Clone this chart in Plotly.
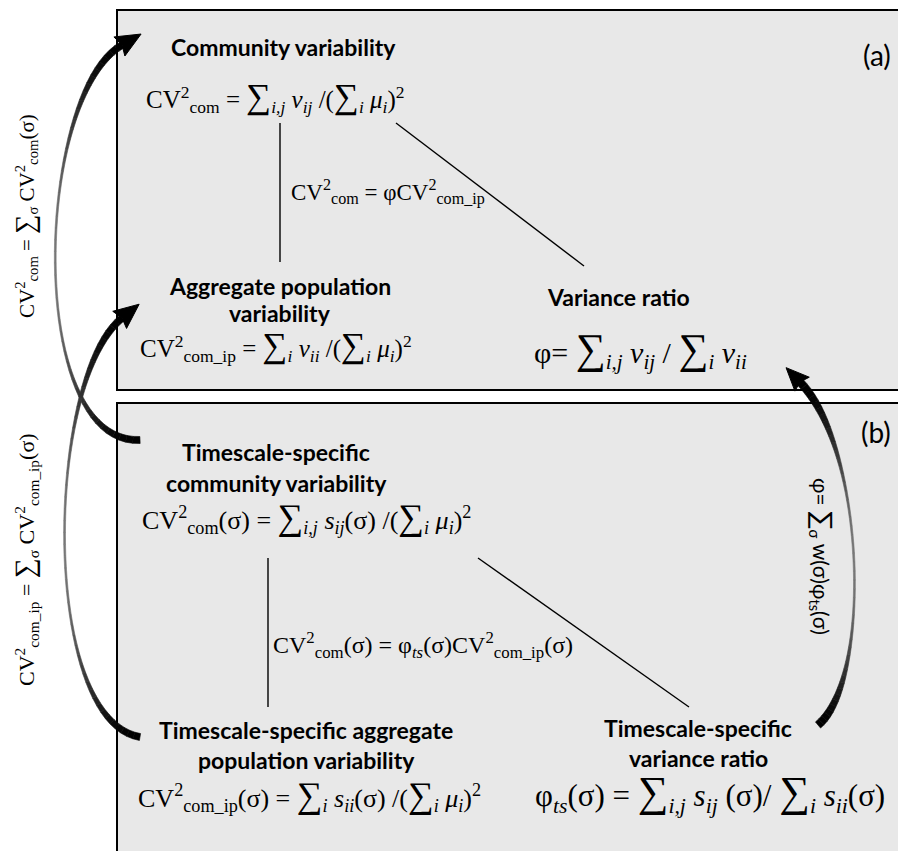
import numpy as np
import plotly.graph_objects as go

W, H = 906, 851
OFF = 8  # default page margin of the HTML body

# ---------------- text content ----------------
panel_tags = ["(a)", "(b)"]

title_lines = [
    "Community variability",
    "Aggregate population",
    "variability",
    "Variance ratio",
    "Timescale-specific",
    "community variability",
    "Timescale-specific aggregate",
    "population variability",
    "Timescale-specific",
    "variance ratio",
]

formula_texts = [
    "CV<sup>2</sup><sub>com</sub> = {S}<sub><i>i,j</i></sub> <i>v</i><sub><i>ij</i></sub> /({S}<sub><i>i</i></sub> <i>μ</i><sub><i>i</i></sub>)<sup>2</sup>",
    "CV<sup>2</sup><sub>com</sub> = φCV<sup>2</sup><sub>com_ip</sub>",
    "CV<sup>2</sup><sub>com_ip</sub> = {S}<sub><i>i</i></sub> <i>v</i><sub><i>ii</i></sub> /({S}<sub><i>i</i></sub> <i>μ</i><sub><i>i</i></sub>)<sup>2</sup>",
    "φ= {S}<sub><i>i,j</i></sub> <i>v</i><sub><i>ij</i></sub> / {S}<sub><i>i</i></sub> <i>v</i><sub><i>ii</i></sub>",
    "CV<sup>2</sup><sub>com</sub>(σ) = {S}<sub><i>i,j</i></sub> <i>s</i><sub><i>ij</i></sub>(σ) /({S}<sub><i>i</i></sub> <i>μ</i><sub><i>i</i></sub>)<sup>2</sup>",
    "CV<sup>2</sup><sub>com</sub>(σ) = φ<sub><i>ts</i></sub>(σ)CV<sup>2</sup><sub>com_ip</sub>(σ)",
    "CV<sup>2</sup><sub>com_ip</sub>(σ) = {S}<sub><i>i</i></sub> <i>s</i><sub><i>ii</i></sub>(σ) /({S}<sub><i>i</i></sub> <i>μ</i><sub><i>i</i></sub>)<sup>2</sup>",
    "φ<sub><i>ts</i></sub>(σ) = {S}<sub><i>i,j</i></sub> <i>s</i><sub><i>ij</i></sub> (σ)/ {S}<sub><i>i</i></sub> <i>s</i><sub><i>ii</i></sub>(σ)",
]

side_texts = [
    "CV<sup>2</sup><sub>com</sub> = {S}<sub>σ</sub> CV<sup>2</sup><sub>com</sub>(σ)",
    "CV<sup>2</sup><sub>com_ip</sub> = {S}<sub>σ</sub> CV<sup>2</sup><sub>com_ip</sub>(σ)",
    "φ= {S}<sub>σ</sub> w(σ)φ<sub>ts</sub>(σ)",
]

# ---------------- layout (positions / styles) ----------------
SERIF = "Liberation Serif"
SANS = "Lato"

boxes = [(117, 10, 910, 390), (117, 403, 910, 870)]
tag_pos = [(877, 55), (876, 432)]
title_pos = [(283, 47), (280, 286), (280, 313), (618, 297),
             (276, 452), (276, 483), (306, 730), (306, 760),
             (698, 728), (698, 758)]
formula_pos = [  # x, y, anchor, size
    (275, 97, "center", 25),
    (289, 192, "left", 23),
    (276, 346, "center", 25),
    (640, 350, "center", 30),
    (306, 517, "center", 26),
    (271, 645, "left", 24),
    (309, 795, "center", 26),
    (710, 793, "center", 31),
]
side_pos = [  # x, y, angle, size, font
    (25, 216, -90, 21, SERIF),
    (25, 560, -90, 22, SERIF),
    (823, 556, 90, 21, SANS),
]
connectors = [((280, 123), (280, 262)), ((396, 123), (584, 266)),
              ((268, 558), (268, 707)), ((478, 558), (689, 707))]
arrows = [  # cubic bezier control points, end width, head length, head half-width
    ([(140, 440), (25, 445), (35, 95), (122, 45)], 7.0, 22, 11),
    ([(140, 737), (40, 720), (45, 380), (122, 318)], 7.0, 22, 11),
    ([(818, 725), (872, 680), (866, 450), (800, 382)], 8.0, 20, 10),
]


def sig(size):
    return '<span style="font-size:%dpx">∑</span>' % size


fig = go.Figure()

shapes = []
for (x0, y0, x1, y1) in boxes:
    shapes.append(dict(type="rect", xref="x", yref="y", x0=x0, y0=y0, x1=x1, y1=y1,
                       fillcolor="#e8e8e8", line=dict(color="black", width=2), layer="below"))
for (p, q) in connectors:
    shapes.append(dict(type="line", xref="x", yref="y", x0=p[0], y0=p[1], x1=q[0], y1=q[1],
                       line=dict(color="black", width=1.4), layer="below"))


def bezier(P, t):
    P = np.array(P, dtype=float)
    t = t[:, None]
    pts = ((1 - t) ** 3) * P[0] + 3 * ((1 - t) ** 2) * t * P[1] + 3 * (1 - t) * t ** 2 * P[2] + t ** 3 * P[3]
    d = 3 * ((1 - t) ** 2) * (P[1] - P[0]) + 6 * (1 - t) * t * (P[2] - P[1]) + 3 * t ** 2 * (P[3] - P[2])
    return pts, d


for (P, wend, hl, hw) in arrows:
    n = 48
    t = np.linspace(0, 1, n + 1)
    pts, d = bezier(P, t)
    u = d / np.linalg.norm(d, axis=1)[:, None]
    nrm = np.stack([-u[:, 1], u[:, 0]], axis=1)
    w = 1.8 + (wend - 1.8) * np.cos(np.pi * t) ** 4
    for i in range(n):
        tm = 0.5 * (t[i] + t[i + 1])
        g = int(120 * np.sin(np.pi * tm) ** 2)
        col = "rgb(%d,%d,%d)" % (g, g, g)
        a = pts[i] + nrm[i] * w[i] / 2
        b = pts[i + 1] + nrm[i + 1] * w[i + 1] / 2
        c = pts[i + 1] - nrm[i + 1] * w[i + 1] / 2
        e = pts[i] - nrm[i] * w[i] / 2
        xs = [a[0], b[0], c[0], e[0], a[0]]
        ys = [a[1], b[1], c[1], e[1], a[1]]
        fig.add_trace(go.Scatter(x=xs, y=ys, mode="lines", fill="toself", fillcolor=col,
                                 line=dict(color=col, width=0.6), hoverinfo="skip", showlegend=False))
    # head
    end = pts[-1]
    ue = u[-1]
    ne = nrm[-1]
    tip = end + ue * hl
    b1 = end - ue * 3 + ne * hw
    b2 = end - ue * 3 - ne * hw
    fig.add_trace(go.Scatter(x=[tip[0], b1[0], end[0], b2[0], tip[0]],
                             y=[tip[1], b1[1], end[1], b2[1], tip[1]],
                             mode="lines", fill="toself", fillcolor="black",
                             line=dict(color="black", width=1), hoverinfo="skip", showlegend=False))

ann = []
for txt, (x, y) in zip(panel_tags, tag_pos):
    ann.append(dict(x=x, y=y, text=txt, font=dict(family=SANS, size=28, color="black")))
for txt, (x, y) in zip(title_lines, title_pos):
    ann.append(dict(x=x, y=y, text="<b>" + txt + "</b>", font=dict(family=SANS, size=23, color="black")))
for txt, (x, y, anc, sz) in zip(formula_texts, formula_pos):
    ann.append(dict(x=x, y=y, xanchor=anc, text=txt.replace("{S}", sig(int(sz * 1.4))),
                    font=dict(family=SERIF, size=sz, color="black")))
for txt, (x, y, ang, sz, fam) in zip(side_texts, side_pos):
    ann.append(dict(x=x, y=y, textangle=ang, text=txt.replace("{S}", sig(int(sz * 1.3))),
                    font=dict(family=fam, size=sz, color="black")))
for a in ann:
    a.update(xref="x", yref="y", showarrow=False)
    a.setdefault("xanchor", "center")
    a.setdefault("yanchor", "middle")

fig.update_layout(
    width=W, height=H, margin=dict(l=0, r=0, t=0, b=0),
    paper_bgcolor="white", plot_bgcolor="white",
    xaxis=dict(range=[OFF, W + OFF], visible=False, fixedrange=True),
    yaxis=dict(range=[H + OFF, OFF], visible=False, fixedrange=True),
    shapes=shapes, annotations=ann, showlegend=False,
)
fig.write_html("out.html")
